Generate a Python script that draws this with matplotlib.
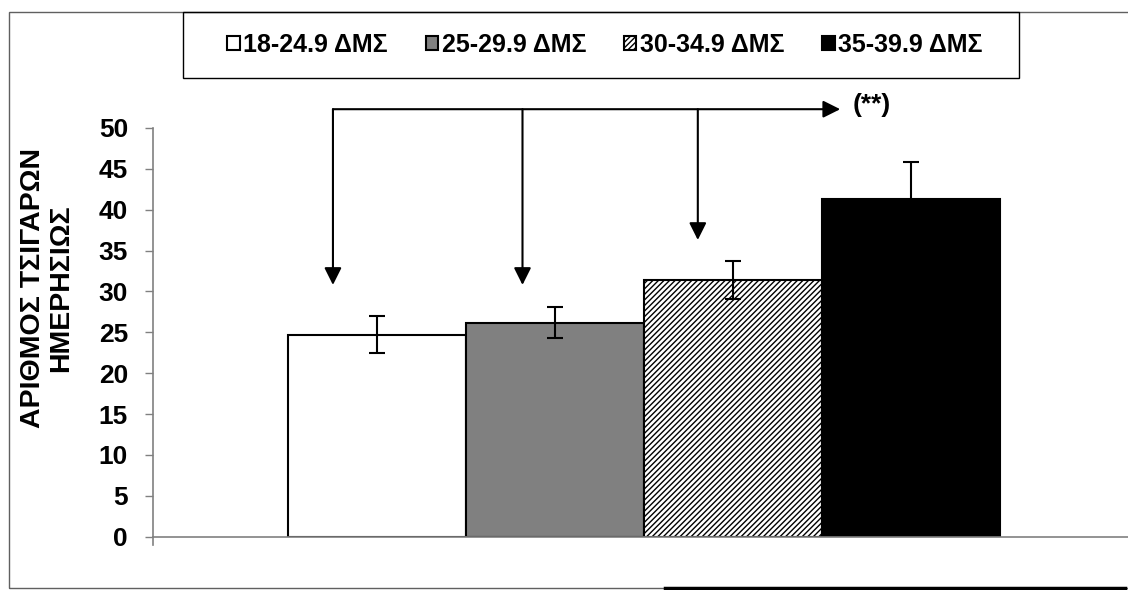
import matplotlib
import matplotlib.pyplot as plt
from matplotlib.patches import Rectangle
from matplotlib.lines import Line2D

matplotlib.use("Agg")

plt.rcParams['font.family'] = ['Liberation Sans', 'DejaVu Sans']
plt.rcParams['font.weight'] = 'bold'
plt.rcParams['hatch.linewidth'] = 1.0

# data
groups = ['18-24.9 ΔΜΣ', '25-29.9 ΔΜΣ', '30-34.9 ΔΜΣ', '35-39.9 ΔΜΣ']
means = [24.7, 26.2, 31.4, 41.3]
errors = [2.25, 1.9, 2.35, 4.55]
ylabel = 'ΑΡΙΘΜΟΣ ΤΣΙΓΑΡΩΝ\nΗΜΕΡΗΣΙΩΣ'
yticks = list(range(0, 51, 5))

# significance bracket: start x, drop x's, arrow tips, end x
bracket_y = 52.3
drop_x = [-0.25, 0.815, 1.80]
drop_tip = [30.8, 30.8, 36.3]
bracket_end = 2.60
sig_label = '(**)'

faces = ['white', '#808080', 'white', 'black']
hatches = [None, None, '//////', None]

fig = plt.figure(figsize=(11.28, 5.90), dpi=100)
ax = fig.add_axes([153 / 1128, 1 - 536.7 / 590, 1 - 153 / 1128, (536.7 - 128) / 590])

handles = []
for i, (m, e) in enumerate(zip(means, errors)):
    b = ax.bar(i, m, width=1.0, color=faces[i], edgecolor='black', linewidth=1.5,
               hatch=hatches[i], zorder=2)
    handles.append(b[0])
    ax.errorbar(i, m, yerr=e, color='black', elinewidth=1.5, capsize=6, capthick=1.5,
                zorder=3)

ax.set_xlim(-1.261, 4.217)
ax.set_ylim(0, 50)
ax.set_yticks(yticks)
ax.set_xticks([])
ax.tick_params(axis='y', direction='out', length=6, width=1, color='#808080',
               labelsize=19, pad=12)
for s in ['top', 'right']:
    ax.spines[s].set_visible(False)
for s in ['left', 'bottom']:
    ax.spines[s].set_color('#808080')
    ax.spines[s].set_linewidth(1.2)
ax.plot([-1.261, -1.261], [0, -1], color='#808080', lw=1.2, clip_on=False)

# bracket with arrows
ax.annotate('', xy=(bracket_end, bracket_y), xytext=(drop_x[0], bracket_y),
            arrowprops=dict(arrowstyle='-|>', color='black', lw=1.5, mutation_scale=26,
                            shrinkA=0, shrinkB=0), annotation_clip=False)
for x, tip in zip(drop_x, drop_tip):
    ax.annotate('', xy=(x, tip), xytext=(x, bracket_y),
                arrowprops=dict(arrowstyle='-|>', color='black', lw=1.5, mutation_scale=26,
                                shrinkA=0, shrinkB=0), annotation_clip=False)
ax.text(bracket_end + 0.07, bracket_y + 0.5, sig_label, fontsize=19, fontweight='bold',
        ha='left', va='center', clip_on=False)

fig.text(47 / 1128, 1 - 288 / 590, ylabel, rotation=90, ha='center', va='center',
         fontsize=20.5, fontweight='bold', multialignment='center', linespacing=1.1)

# outer frame and legend box
fig.patches.append(Rectangle((9 / 1128, 2 / 590), 1.2, 576 / 590, transform=fig.transFigure,
                             fill=False, edgecolor='#606060', linewidth=1))
fig.lines.append(Line2D([665 / 1128, 1125 / 1128], [2 / 590, 2 / 590], transform=fig.transFigure,
                        color='black', linewidth=2.5))
fig.patches.append(Rectangle((183 / 1128, 1 - 78 / 590), (1019 - 183) / 1128, 66 / 590,
                             transform=fig.transFigure, fill=False, edgecolor='black',
                             linewidth=1))
fig.legend(handles=handles, labels=groups, loc='center', ncol=4, frameon=False,
           bbox_to_anchor=(605 / 1128, 1 - 45 / 590), fontsize=18,
           handlelength=0.5, handleheight=0.5, handletextpad=0.15, columnspacing=1.5)

fig.savefig('out.png', dpi=100)
